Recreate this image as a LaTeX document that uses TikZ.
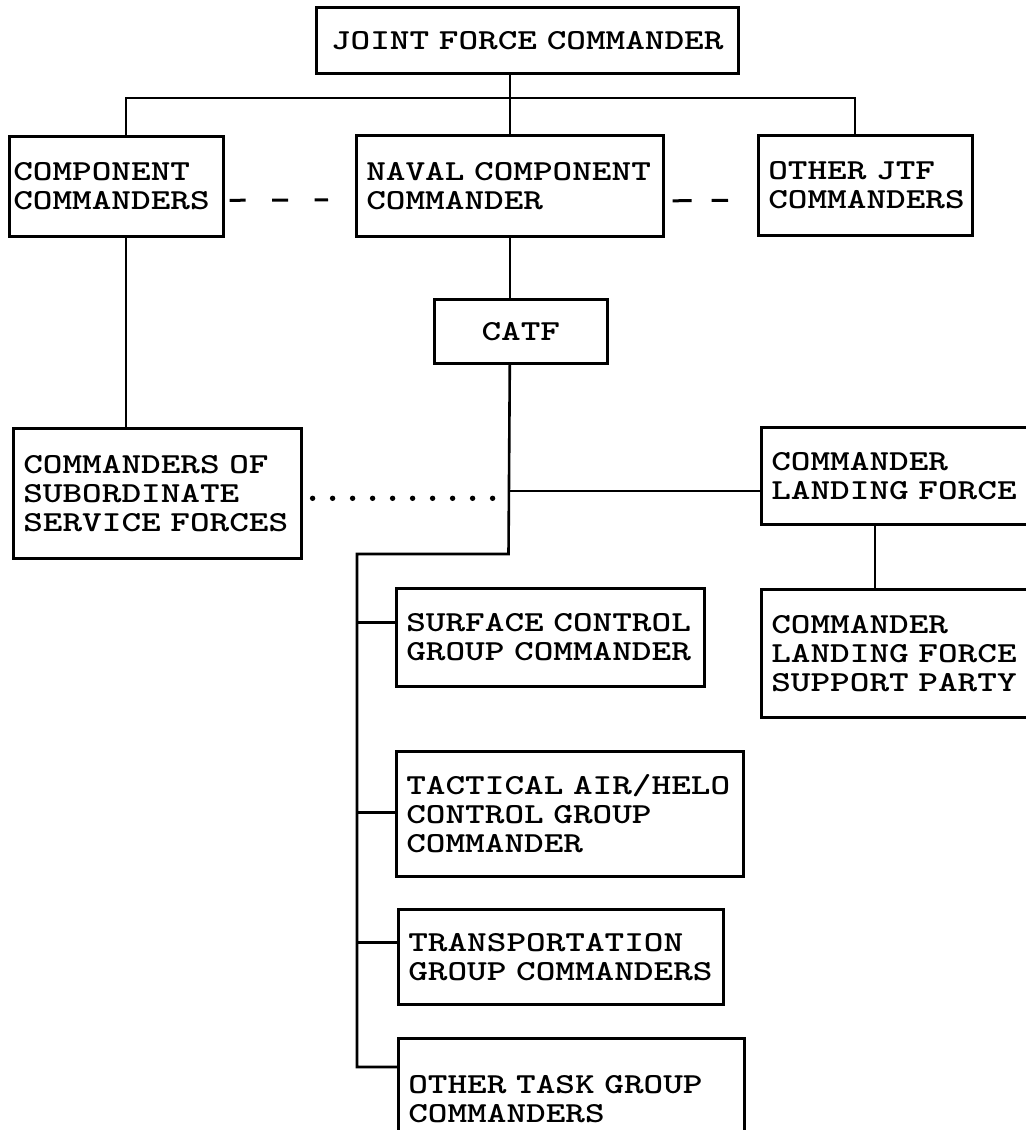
\documentclass[tikz,border=0pt]{standalone}
\usepackage{fontspec}
\newfontfamily\boxfont[Extension=.otf, UprightFont=*-bold, FakeStretch=1.29]{lmmonolt10}

\tikzset{
  unit/.style={draw, line width=1.3pt, anchor=north west, align=left,
    inner xsep=5pt, inner ysep=0pt, font=\boxfont\fontsize{14.5}{14.5}\selectfont},
  link/.style={line width=1.3pt},
  dashA/.style={line width=1.5pt, dash pattern=on 8pt off 13.25pt},
  dashB/.style={line width=1.5pt, dash pattern=on 9.5pt off 10pt},
}

\begin{document}
\begin{tikzpicture}[x=0.5pt, y=-0.5pt]
\useasboundingbox (0,0) rectangle (1025,1130);

% command boxes
\node[unit, align=center, text width=201pt, minimum height=33pt] (jfc) at (315,6) {JOINT~FORCE~COMMANDER};
\node[unit, inner xsep=2pt, text width=103pt, minimum height=50pt] (cc) at (8,135) {COMPONENT\\COMMANDERS};
\node[unit, text width=143.5pt, minimum height=50.5pt] (nav) at (355,134) {NAVAL~COMPONENT\\COMMANDER};
\node[unit, text width=97pt, minimum height=50pt] (jtf) at (757,134) {OTHER~JTF\\COMMANDERS};
\node[unit, align=center, text width=76.5pt, minimum height=32pt] (catf) at (433,298) {CATF};
\node[unit, text width=134pt, minimum height=65pt] (sub) at (12,427) {COMMANDERS~OF\\SUBORDINATE\\SERVICE~FORCES};
\node[unit, text width=140pt, minimum height=48.5pt] (clf) at (760,426) {COMMANDER\\LANDING~FORCE};
\node[unit, text width=140pt, minimum height=64pt] (clfsp) at (760,588) {COMMANDER\\LANDING~FORCE\\SUPPORT~PARTY};
\node[unit, text width=144pt, minimum height=49pt] (sur) at (395,587) {SURFACE~CONTROL\\GROUP~COMMANDER};
\node[unit, text width=163.5pt, minimum height=62.5pt] (tac) at (395,750) {TACTICAL~AIR/HELO\\CONTROL~GROUP\\COMMANDER};
\node[unit, text width=152.5pt, minimum height=47.5pt] (tra) at (397,908) {TRANSPORTATION\\GROUP~COMMANDERS};
\node[unit, text width=163pt, minimum height=61pt] (oth) at (397,1037) {OTHER~TASK~GROUP\\COMMANDERS};

% junction points
\coordinate (bus) at (508.5,98);
\coordinate (hub) at (508.5,491);
\coordinate (elbow) at (508.5,554);
\coordinate (foot) at (357,1067);
\coordinate (ccdrop) at ([shift={(118,0)}]cc.south west);
\coordinate (clfdrop) at ([shift={(115,0)}]clf.south west);

% top level
\draw[link] (nav.north) -- (nav.north |- jfc.south);
\draw[link] ([shift={(118,0)}]cc.north west) |- (bus) -| ([shift={(98,0)}]jtf.north west);
\draw[dashA] ([shift={(5,14)}]cc.east) -- ([shift={(-27,14)}]nav.west);
\draw[dashB] ([shift={(8,15)}]nav.east) -- ([shift={(-29,15)}]jtf.west);

% down the chain
\draw[link] (ccdrop) -- (ccdrop |- sub.north);
\draw[link] (nav.south) -- (nav.south |- catf.north);
\draw[link] (nav.south |- catf.south) -- (elbow) -| (foot) -- (foot -| oth.west);
\draw[link] (hub) -- (hub -| clf.west);
\foreach \i in {0,...,9}
  \fill ([shift={(10+20*\i,5)}]sub.east) circle (1.35pt);
\draw[link] (clfdrop) -- (clfdrop |- clfsp.north);
\foreach \n/\dy in {sur/7.5pt, tac/0.75pt, tra/7.25pt}{
  \coordinate (t\n) at ([yshift=\dy]\n.west);
  \draw[link] (t\n) -- (t\n -| foot);
}
\end{tikzpicture}
\end{document}
